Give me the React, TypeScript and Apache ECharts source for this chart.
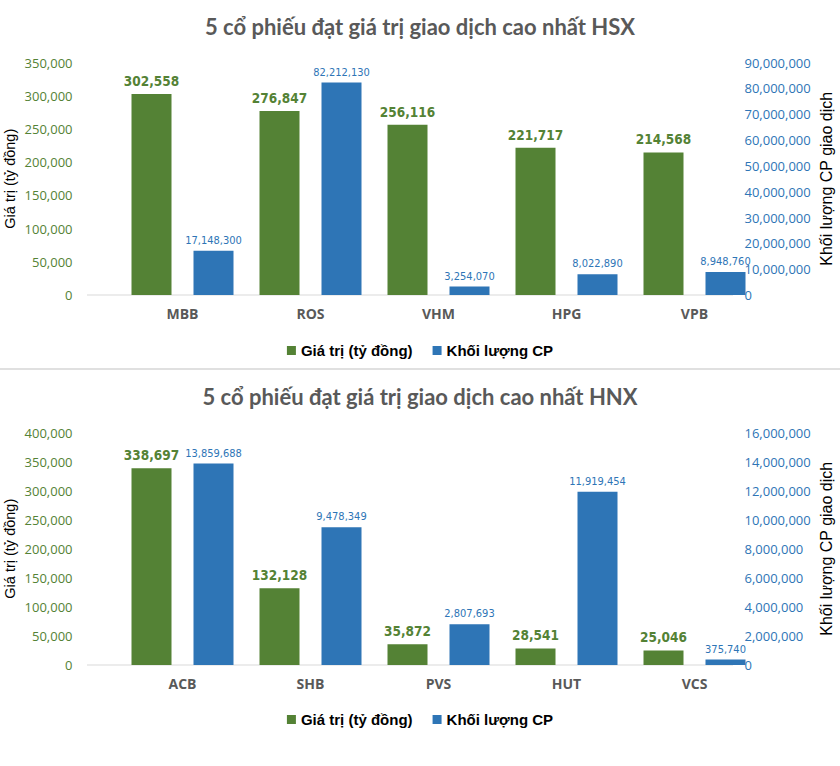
import React, { useEffect, useRef } from "react";
import * as echarts from "echarts";

const hsxCategories = ["MBB", "ROS", "VHM", "HPG", "VPB"];
const hsxValue = [302558, 276847, 256116, 221717, 214568];
const hsxVolume = [17148300, 82212130, 3254070, 8022890, 8948760];

const hnxCategories = ["ACB", "SHB", "PVS", "HUT", "VCS"];
const hnxValue = [338697, 132128, 35872, 28541, 25046];
const hnxVolume = [13859688, 9478349, 2807693, 11919454, 375740];

const seriesNames = ["Giá trị (tỷ đồng)", "Khối lượng CP"];
const titles = [
  "5 cổ phiếu đạt giá trị giao dịch cao nhất HSX",
  "5 cổ phiếu đạt giá trị giao dịch cao nhất HNX",
];
const leftAxisName = "Giá trị (tỷ đồng)";
const rightAxisName = "Khối lượng CP giao dịch";

const GREEN = "#548235";
const BLUE = "#2E75B6";
const NARROW = "'DejaVu Sans Condensed', 'Liberation Sans', sans-serif";
const fmt = (v: number) => Number(v).toLocaleString("en-US");

export default function App() {
  const ref = useRef<HTMLDivElement>(null);
  useEffect(() => {
    if (!ref.current) return;
    const chart = echarts.init(ref.current, null, { renderer: "svg" });
    const grids = [
      { left: 118.5, width: 640, top: 62.5, height: 232.5, outerBoundsMode: "none", containLabel: false },
      { left: 118.5, width: 640, top: 432.5, height: 232.5, outerBoundsMode: "none", containLabel: false },
    ];
    const leftAxes = [
      { max: 350000, interval: 50000 },
      { max: 400000, interval: 50000 },
    ];
    const rightAxes = [
      { max: 90000000, interval: 10000000 },
      { max: 16000000, interval: 2000000 },
    ];
    const yAxis: any[] = [];
    [0, 1].forEach((g) => {
      yAxis.push({
        type: "value",
        gridIndex: g,
        min: 0,
        max: leftAxes[g].max,
        interval: leftAxes[g].interval,
        name: leftAxisName,
        nameLocation: "middle",
        nameGap: 101,
        nameMoveOverlap: false,
        nameRotate: 90,
        nameTextStyle: { fontFamily: "Liberation Sans", fontSize: 14.5, color: "#000" },
        axisLine: { show: false },
        axisTick: { show: false },
        splitLine: { show: false },
        axisLabel: {
          color: GREEN,
          fontFamily: "Open Sans",
          fontSize: 13,
          margin: 46,
          formatter: fmt,
        },
      });
      yAxis.push({
        type: "value",
        gridIndex: g,
        position: "right",
        min: 0,
        max: rightAxes[g].max,
        interval: rightAxes[g].interval,
        name: rightAxisName,
        nameLocation: "middle",
        nameGap: 60,
        nameMoveOverlap: false,
        nameRotate: 90,
        nameTextStyle: { fontFamily: "Liberation Sans", fontSize: 16, color: "#000" },
        axisLine: { show: false },
        axisTick: { show: false },
        splitLine: { show: false },
        axisLabel: {
          color: BLUE,
          fontFamily: "Open Sans",
          fontSize: 13,
          margin: -14,
          formatter: fmt,
        },
      });
    });
    const cats = [hsxCategories, hnxCategories];
    const vals = [hsxValue, hnxValue];
    const vols = [hsxVolume, hnxVolume];
    const series: any[] = [];
    [0, 1].forEach((g) => {
      series.push({
        type: "bar",
        name: seriesNames[0],
        xAxisIndex: g,
        yAxisIndex: g * 2,
        data: vals[g],
        barWidth: 40,
        barGap: "55%",
        itemStyle: { color: GREEN },
        label: {
          show: true,
          position: "top",
          distance: 6,
          color: GREEN,
          fontFamily: NARROW,
          fontWeight: "bold",
          fontSize: 13.5,
          formatter: (p: any) => fmt(p.value),
        },
      });
      series.push({
        type: "bar",
        name: seriesNames[1],
        xAxisIndex: g,
        yAxisIndex: g * 2 + 1,
        data: vols[g],
        barWidth: 40,
        barGap: "55%",
        itemStyle: { color: BLUE },
        label: {
          show: true,
          position: "top",
          distance: 5,
          color: BLUE,
          fontFamily: NARROW,
          fontSize: 11,
          formatter: (p: any) => fmt(p.value),
        },
      });
    });
    chart.setOption({
      animation: false,
      backgroundColor: "#fff",
      title: [
        {
          text: titles[0],
          left: "center",
          top: 15,
          padding: 0,
          textStyle: { fontFamily: "Lato", fontWeight: "bold", fontSize: 22, color: "#595959" },
        },
        {
          text: titles[1],
          left: "center",
          top: 385,
          padding: 0,
          textStyle: { fontFamily: "Lato", fontWeight: "bold", fontSize: 22, color: "#595959" },
        },
      ],
      legend: [0, 1].map((g) => ({
        data: seriesNames,
        left: "center",
        top: g === 0 ? 338 : 707,
        itemWidth: 9,
        itemHeight: 9,
        itemGap: 20,
        icon: "rect",
        textStyle: { fontFamily: "Liberation Sans", fontWeight: "bold", fontSize: 15, color: "#000" },
      })),
      grid: grids,
      xAxis: [0, 1].map((g) => ({
        type: "category",
        gridIndex: g,
        data: cats[g],
        axisLine: { show: false },
        axisTick: { show: false },
        axisLabel: {
          color: "#595959",
          fontFamily: "Open Sans",
          fontWeight: "bold",
          fontSize: 14,
          margin: 11,
        },
      })),
      yAxis,
      series,
      graphic: [
        { type: "line", shape: { x1: 87, y1: 295, x2: 733, y2: 295 }, style: { stroke: "#d9d9d9", lineWidth: 1 } },
        { type: "line", shape: { x1: 87, y1: 665, x2: 733, y2: 665 }, style: { stroke: "#d9d9d9", lineWidth: 1 } },
        { type: "line", shape: { x1: 0, y1: 369, x2: 840, y2: 369 }, style: { stroke: "#e0e0e0", lineWidth: 2 } },
      ],
    });
    return () => chart.dispose();
  }, []);
  return (
    <div
      ref={ref}
      style={{ position: "absolute", left: 0, top: 0, width: 840, height: 766 }}
    />
  );
}
